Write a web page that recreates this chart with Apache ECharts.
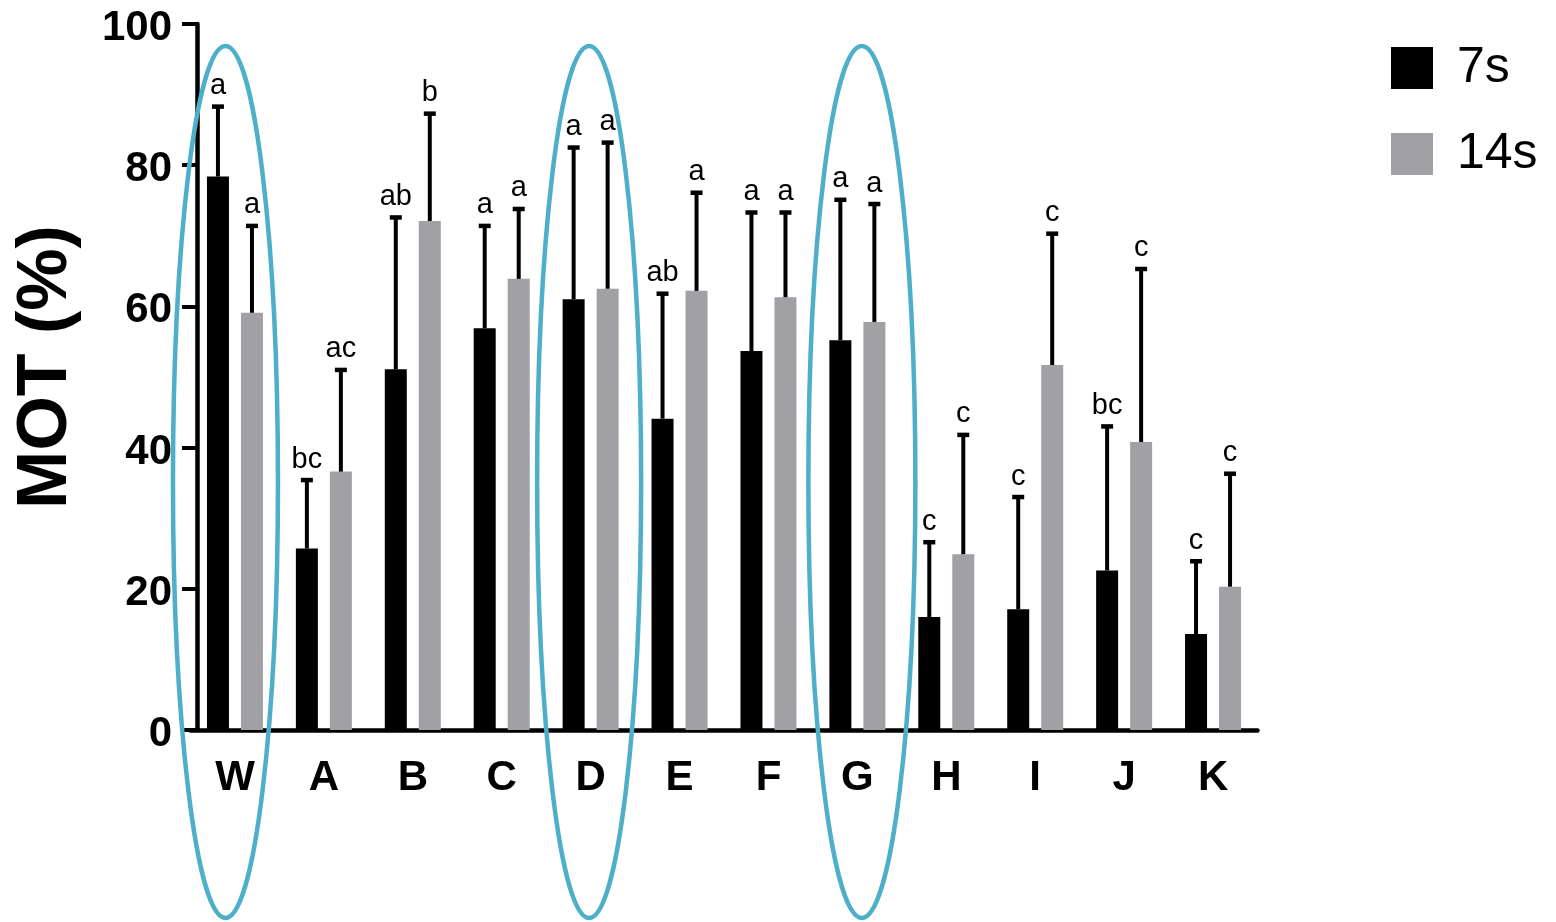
<!DOCTYPE html>
<html>
<head>
<meta charset="utf-8">
<title>MOT (%)</title>
<script src="https://cdn.jsdelivr.net/npm/echarts@6/dist/echarts.min.js"></script>
<style>
  html, body { margin: 0; padding: 0; background: #fff; }
  #chart { width: 1556px; height: 922px; }
</style>
</head>
<body>
<div id="chart"></div>
<script>
// Groups on the x axis
const categories = ['W', 'A', 'B', 'C', 'D', 'E', 'F', 'G', 'H', 'I', 'J', 'K'];

// 7 s exposure: means, standard deviations, significance letters
const mean7s = [78.4, 25.7, 51.1, 56.9, 61.0, 44.1, 53.7, 55.2, 16.0, 17.1, 22.6, 13.6];
const sd7s = [9.9, 9.7, 21.5, 14.5, 21.5, 17.7, 19.6, 19.9, 10.6, 15.9, 20.4, 10.3];
const letters7s = ['a', 'bc', 'ab', 'a', 'a', 'ab', 'a', 'a', 'c', 'c', 'bc', 'c'];

// 14 s exposure
const mean14s = [59.1, 36.6, 72.1, 63.9, 62.5, 62.2, 61.3, 57.8, 24.9, 51.7, 40.8, 20.3];
const sd14s = [12.3, 14.4, 15.2, 9.9, 20.7, 13.9, 12.0, 16.7, 16.9, 18.6, 24.5, 16.0];
const letters14s = ['a', 'ac', 'b', 'a', 'a', 'a', 'a', 'a', 'c', 'c', 'c', 'c'];

// Y axis ticks
const yMin = 0, yMax = 100, yStep = 20;

// Highlighted groups (circled)
const circled = ['W', 'D', 'G'];

const FONT = '"Liberation Sans", Arial, Helvetica, sans-serif';
const BAR_W = 22;
const BAR_GAP = 12;
const HALF_OFF = (BAR_W + BAR_GAP) / 2;
const GREY = '#a1a0a5';

const chart = echarts.init(document.getElementById('chart'), null, { renderer: 'canvas' });

// Upper error whisker with cap and letter label, drawn through the axis scales
function errorRenderer(letters, offset) {
  return function (params, api) {
    const idx = api.value(0);
    const base = api.coord([idx, api.value(1)]);
    const top = api.coord([idx, api.value(1) + api.value(2)]);
    const x = base[0] + offset;
    return {
      type: 'group',
      children: [
        { type: 'line', shape: { x1: x, y1: base[1], x2: x, y2: top[1] },
          style: { stroke: '#000', lineWidth: 4 } },
        { type: 'line', shape: { x1: x - 6, y1: top[1], x2: x + 6, y2: top[1] },
          style: { stroke: '#000', lineWidth: 4.5 } },
        { type: 'text',
          style: { x: x, y: top[1] - 6, text: letters[params.dataIndex],
                   align: 'center', verticalAlign: 'bottom',
                   fontSize: 29, fontFamily: FONT, fill: '#000' } }
      ]
    };
  };
}

const option = {
  animation: false,
  backgroundColor: '#fff',
  grid: { left: 190.5, right: 298.5, top: 24, bottom: 192, containLabel: false },
  legend: {
    data: ['7s', '14s'],
    orient: 'vertical',
    left: 1391, top: 43,
    padding: 0,
    icon: 'rect',
    itemWidth: 42, itemHeight: 42, itemGap: 36,
    textStyle: { fontSize: 50, fontFamily: FONT, color: '#000', padding: [0, 0, 0, 19] }
  },
  xAxis: {
    type: 'category',
    data: categories,
    axisLine: { lineStyle: { color: '#000', width: 4.5 } },
    axisTick: { alignWithLabel: true, length: 15, lineStyle: { color: '#000', width: 4 } },
    axisLabel: { fontSize: 42, fontWeight: 'bold', fontFamily: FONT, color: '#000', margin: 27 }
  },
  yAxis: {
    type: 'value',
    min: yMin, max: yMax, interval: yStep,
    offset: -6.5,
    name: 'MOT (%)',
    nameLocation: 'middle',
    nameRotate: 90,
    nameGap: 115,
    nameTextStyle: { fontSize: 70, fontWeight: 'bold', fontFamily: FONT, color: '#000',
                     padding: [0, 0, 0, 20] },
    splitLine: { show: false },
    axisLine: { show: true, lineStyle: { color: '#000', width: 4.5 } },
    axisTick: { show: true, length: 15, lineStyle: { color: '#000', width: 4 } },
    axisLabel: {
      margin: 25,
      formatter: '{v|{value}}',
      rich: {
        v: { fontSize: 42, fontWeight: 'bold', fontFamily: FONT, color: '#000',
             padding: [9, 0, 0, 0] }
      }
    }
  },
  series: [
    { name: '7s', type: 'bar', data: mean7s, barWidth: BAR_W,
      barGap: (BAR_GAP / BAR_W * 100) + '%',
      itemStyle: { color: '#000' } },
    { name: '14s', type: 'bar', data: mean14s, barWidth: BAR_W,
      itemStyle: { color: GREY } },
    { type: 'custom', z: 3,
      data: mean7s.map((m, i) => [i, m, sd7s[i]]),
      renderItem: errorRenderer(letters7s, -HALF_OFF) },
    { type: 'custom', z: 3,
      data: mean14s.map((m, i) => [i, m, sd14s[i]]),
      renderItem: errorRenderer(letters14s, HALF_OFF) }
  ]
};

chart.setOption(option);

// Outline ellipses around the highlighted groups
const ellipseOffsets = { W: -9.5, D: -1.5, G: 4.5 };
const ellipseRx = { W: 52.5, D: 52, G: 53.5 };
function drawEllipses() {
  const elems = circled.map(c => {
    const px = chart.convertToPixel({ xAxisIndex: 0 }, c);
    return {
      type: 'ellipse', z: 100, silent: true,
      shape: { cx: px + ellipseOffsets[c], cy: 482, rx: ellipseRx[c], ry: 436 },
      style: { fill: 'none', stroke: '#4eafc9', lineWidth: 4.5 }
    };
  });
  chart.setOption({ graphic: elems });
}
drawEllipses();
</script>
</body>
</html>
